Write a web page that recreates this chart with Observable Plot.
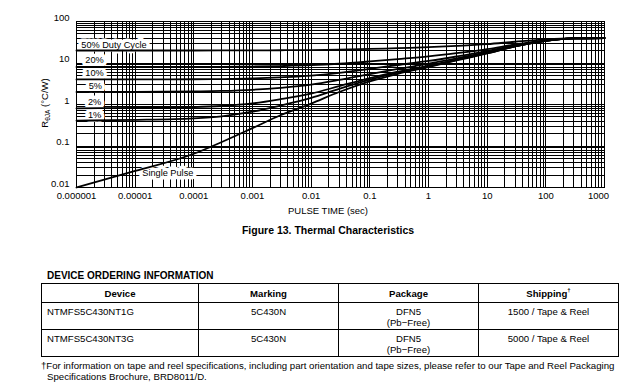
<!DOCTYPE html>
<html><head><meta charset="utf-8">
<script src="https://cdn.jsdelivr.net/npm/d3@7"></script>
<script src="https://cdn.jsdelivr.net/npm/@observablehq/plot@0.6"></script>
<style>
body{margin:0;background:#fff;font-family:"Liberation Sans",Arial,Helvetica,sans-serif;color:#000;}
#wrap{position:relative;width:619px;height:391px;overflow:hidden;background:#fff;}
#chart{position:absolute;left:0;top:0;}
.abs{position:absolute;white-space:nowrap;line-height:12px;}
table{position:absolute;left:41px;top:283px;border-collapse:collapse;table-layout:fixed;width:577px;font-size:9.6px;}
td,th{border:1px solid #000;padding:0;}
th{height:18px;font-weight:bold;text-align:center;vertical-align:middle;}
td{height:27px;vertical-align:top;text-align:center;padding-top:3px;line-height:11px;box-sizing:border-box;}
td.dev{text-align:left;padding-left:5px;}
sup{font-size:6px;vertical-align:top;position:relative;top:-1px;}
</style></head><body><div id="wrap"><div id="chart"></div></div>
<script>
// ---- data ----
const pulseTime = [1e-6, 1e-5, 1e-4, 3e-4, 1e-3, 3e-3, 1e-2, 3e-2, 0.1, 0.3, 1, 3, 10, 30, 100, 300, 1000];
const duty50  = [20.0, 20.01, 20.03, 20.06, 20.1, 20.3, 20.5, 21.0, 21.8, 22.8, 24.0, 25.8, 28.5, 32.5, 37.0, 39.5, 40];
const duty20  = [8.01, 8.02, 8.05, 8.1, 8.22, 8.44, 8.84, 9.6, 10.9, 12.4, 14.4, 17.2, 21.6, 28, 35.2, 39.2, 40];
const duty10  = [4.01, 4.02, 4.06, 4.11, 4.24, 4.5, 4.95, 5.8, 7.24, 8.95, 11.2, 14.35, 19.3, 26.5, 34.6, 39.1, 40];
const duty5   = [2.01, 2.02, 2.06, 2.12, 2.26, 2.52, 3.0, 3.9, 5.42, 7.2, 9.6, 12.9, 18.2, 25.8, 34.3, 39.05, 40];
const duty2   = [0.81, 0.825, 0.864, 0.92, 1.06, 1.34, 1.83, 2.76, 4.33, 6.19, 8.64, 12.07, 17.5, 25.3, 34.1, 39.0, 40];
const duty1   = [0.41, 0.425, 0.464, 0.52, 0.67, 0.94, 1.44, 2.38, 3.96, 5.85, 8.32, 11.8, 17.2, 25.2, 34.1, 39.0, 40];
const single  = [0.01, 0.025, 0.065, 0.125, 0.27, 0.55, 1.05, 2.0, 3.6, 5.5, 8.0, 11.5, 17, 25, 34, 39, 40];

const seriesNames = ["50% Duty Cycle", "20%", "10%", "5%", "2%", "1%", "Single Pulse"];
const seriesValues = [duty50, duty20, duty10, duty5, duty2, duty1, single];

// label anchor positions (data units)
const labelTime  = [4.35e-6, 2.03e-6, 2.03e-6, 2.1e-6, 2.03e-6, 2.03e-6, 3.6e-5];
const labelValue = [26.4, 12.1, 5.8, 2.72, 1.135, 0.565, 0.0226];

const xTickValues = [1e-6, 1e-5, 1e-4, 1e-3, 1e-2, 0.1, 1, 10, 100, 1000];
const xTickLabels = ["0.000001", "0.00001", "0.0001", "0.001", "0.01", "0.1", "1", "10", "100", "1000"];
const yTickValues = [0.01, 0.1, 1, 10, 100];
const yTickLabels = ["0.01", "0.1", "1", "10", "100"];

const xAxisTitle = "PULSE TIME (sec)";
const figureCaption = "Figure 13. Thermal Characteristics";
const tableTitle = "DEVICE ORDERING INFORMATION";
const tableHeaders = ["Device", "Marking", "Package", "Shipping"];
const devices = ["NTMFS5C430NT1G", "NTMFS5C430NT3G"];
const markings = ["5C430N", "5C430N"];
const packages = ["DFN5", "DFN5"];
const packageNotes = ["(Pb\u2212Free)", "(Pb\u2212Free)"];
const shipping = ["1500 / Tape &amp; Reel", "5000 / Tape &amp; Reel"];
const footnote1 = "For information on tape and reel specifications, including part orientation and tape sizes, please refer to our Tape and Reel Packaging";
const footnote2 = "Specifications Brochure, BRD8011/D.";

// ---- build ----
const rows = [];
seriesNames.forEach((name, s) => pulseTime.forEach((t, i) => rows.push({t, R: seriesValues[s][i], series: name})));
const labels = seriesNames.map((name, i) => ({name, t: labelTime[i], R: labelValue[i]}));

const gridX = [];
for (let k = -6; k <= 2; k++) for (let m = 1; m <= 9; m++) gridX.push(+(m * Math.pow(10, k)).toPrecision(3));
gridX.push(1000);
const gridY = [];
for (let k = -2; k <= 1; k++) for (let m = 1; m <= 9; m++) gridY.push(+(m * Math.pow(10, k)).toPrecision(3));
gridY.push(100);

const xLab = new Map(xTickValues.map((v, i) => [v, xTickLabels[i]]));
const yLab = new Map(yTickValues.map((v, i) => [v, yTickLabels[i]]));

const chart = Plot.plot({
  width: 619, height: 200,
  marginTop: 21, marginBottom: 13, marginLeft: 76, marginRight: 15,
  style: {fontFamily: "'Liberation Sans', Arial, sans-serif", fontSize: "9.5px", color: "#000", background: "#fff"},
  x: {type: "log", domain: [1e-6, 1000], label: null},
  y: {type: "log", domain: [0.01, 100], label: null},
  marks: [
    Plot.ruleX(gridX, {stroke: "#000", strokeWidth: 1, shapeRendering: "crispEdges"}),
    Plot.ruleY(gridY, {stroke: "#000", strokeWidth: 1, shapeRendering: "crispEdges"}),
    Plot.text(labels, {x: "t", y: "R", text: "name", textAnchor: "middle", fontSize: 9.2, fill: "#000",
      stroke: "#fff", strokeWidth: 7, strokeLinejoin: "round"}),
    Plot.line(rows, {x: "t", y: "R", z: "series", stroke: "#000", strokeWidth: 1.8, curve: "monotone-x"}),
    Plot.frame({stroke: "#000", strokeWidth: 1, shapeRendering: "crispEdges"}),
    Plot.axisY(yTickValues, {tickSize: 0, tickPadding: 7, dy: -4, tickFormat: d => yLab.get(d), label: null}),
    Plot.axisX(xTickValues.slice(0, -1), {tickSize: 0, tickPadding: 5, tickFormat: d => xLab.get(d), label: null}),
    Plot.axisX(xTickValues.slice(-1), {tickSize: 0, tickPadding: 5, dx: -6, tickFormat: d => xLab.get(d), label: null})
  ]
});
document.getElementById("chart").appendChild(chart);

// y axis title with subscript
const yt = d3.select(chart).append("text")
  .attr("transform", "translate(48,103) rotate(-90)")
  .attr("text-anchor", "middle").attr("font-size", "9.5px").attr("fill", "#000");
yt.append("tspan").text("R");
yt.append("tspan").attr("font-size", "6.5px").attr("dy", "2").text("\u03B8JA");
yt.append("tspan").attr("dy", "-2").text(" (\u00B0C/W)");

const wrap = document.getElementById("wrap");
function addDiv(html, css) {
  const d = document.createElement("div");
  d.className = "abs";
  d.innerHTML = html;
  Object.assign(d.style, css);
  wrap.appendChild(d);
  return d;
}
addDiv(xAxisTitle, {left: "0px", width: "656px", textAlign: "center", top: "205px", fontSize: "9.5px"});
addDiv(figureCaption, {left: "0px", width: "656px", textAlign: "center", top: "224px", fontSize: "10.5px", fontWeight: "bold"});
addDiv(tableTitle, {left: "47px", top: "270px", fontSize: "10px", fontWeight: "bold"});

let html = "<colgroup><col style='width:157px'><col style='width:140px'><col style='width:140px'><col style='width:140px'></colgroup>";
html += "<tr>" + tableHeaders.map((h, i) => "<th>" + h + (i === 3 ? "<sup>\u2020</sup>" : "") + "</th>").join("") + "</tr>";
devices.forEach((d, i) => {
  html += "<tr><td class='dev'>" + d + "</td><td>" + markings[i] + "</td><td>" + packages[i] + "<br>" + packageNotes[i] + "</td><td>" + shipping[i] + "</td></tr>";
});
const table = document.createElement("table");
table.innerHTML = html;
wrap.appendChild(table);

addDiv("\u2020" + footnote1, {left: "41px", top: "360px", fontSize: "9.65px"});
addDiv(footnote2, {left: "47px", top: "371px", fontSize: "9.65px"});
</script>
</body></html>
